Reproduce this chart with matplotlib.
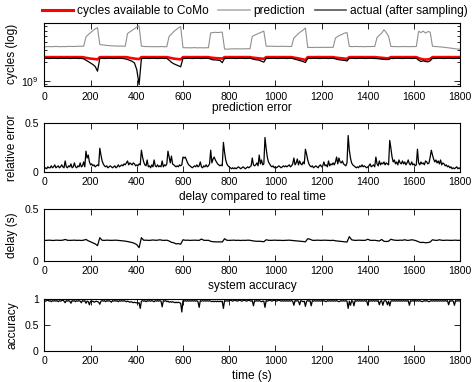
import numpy as np
import matplotlib
matplotlib.use('Agg')
import matplotlib.pyplot as plt
from matplotlib.lines import Line2D
from matplotlib.ticker import LogLocator, FixedLocator, NullFormatter

plt.rcParams['font.family'] = ['Liberation Sans', 'DejaVu Sans']

# time axis (s)
t10 = np.arange(0, 1801, 10)   # panels 1 and 3, one value every 10 s
t5 = np.arange(0, 1801, 5)     # panels 2 and 4, one value every 5 s

# cycles, in units of 1e9
available = [
    2.34, 2.34, 2.34, 2.34, 2.34, 2.34, 2.34, 2.34, 2.34, 2.34,
    2.34, 2.34, 2.34, 2.34, 2.34, 2.34, 2.34, 2.32, 2.28, 2.25,
    2.22, 2.20, 2.18, 2.16, 2.34, 2.34, 2.34, 2.34, 2.34, 2.34,
    2.34, 2.34, 2.34, 2.34, 2.34, 2.34, 2.32, 2.28, 2.25, 2.22,
    2.20, 2.18, 2.34, 2.34, 2.34, 2.34, 2.34, 2.34, 2.34, 2.34,
    2.34, 2.34, 2.34, 2.34, 2.30, 2.26, 2.22, 2.20, 2.18, 2.16,
    2.34, 2.34, 2.34, 2.34, 2.34, 2.34, 2.34, 2.34, 2.34, 2.34,
    2.34, 2.34, 2.30, 2.28, 2.26, 2.25, 2.24, 2.22, 2.34, 2.34,
    2.34, 2.34, 2.34, 2.34, 2.34, 2.34, 2.34, 2.34, 2.34, 2.34,
    2.30, 2.28, 2.26, 2.24, 2.22, 2.20, 2.34, 2.34, 2.34, 2.34,
    2.34, 2.34, 2.34, 2.34, 2.34, 2.34, 2.34, 2.34, 2.30, 2.27,
    2.24, 2.20, 2.16, 2.12, 2.34, 2.34, 2.34, 2.34, 2.34, 2.34,
    2.34, 2.34, 2.34, 2.34, 2.34, 2.34, 2.30, 2.28, 2.26, 2.24,
    2.22, 2.20, 2.34, 2.34, 2.34, 2.34, 2.34, 2.34, 2.34, 2.34,
    2.34, 2.34, 2.34, 2.34, 2.32, 2.30, 2.28, 2.26, 2.25, 2.25,
    2.34, 2.34, 2.34, 2.34, 2.34, 2.34, 2.34, 2.34, 2.34, 2.34,
    2.34, 2.34, 2.26, 2.20, 2.16, 2.14, 2.16, 2.20, 2.34, 2.34,
    2.34, 2.34, 2.34, 2.34, 2.34, 2.34, 2.34, 2.34, 2.34, 2.34,
    2.34]

prediction = [
    3.38, 3.40, 3.41, 3.39, 3.40, 3.42, 3.40, 3.39, 3.41, 3.40,
    3.42, 3.43, 3.41, 3.42, 3.44, 3.43, 3.45, 3.44, 4.80, 5.20,
    5.60, 6.00, 6.40, 6.65, 3.66, 3.62, 3.58, 3.55, 3.52, 3.50,
    3.48, 3.47, 3.46, 3.47, 3.45, 3.46, 5.40, 5.75, 6.05, 6.40,
    6.80, 7.10, 3.45, 3.42, 3.40, 3.41, 3.39, 3.40, 3.38, 3.40,
    3.39, 3.41, 3.38, 3.40, 4.90, 5.30, 5.80, 6.20, 6.60, 6.90,
    3.28, 3.26, 3.27, 3.25, 3.26, 3.28, 3.25, 3.27, 3.26, 3.25,
    3.27, 3.26, 5.55, 5.60, 5.65, 5.60, 5.65, 5.70, 3.12, 3.10,
    3.12, 3.14, 3.13, 3.15, 3.14, 3.13, 3.15, 3.14, 3.16, 3.15,
    4.90, 5.10, 5.30, 5.50, 5.70, 5.90, 3.46, 3.44, 3.45, 3.43,
    3.44, 3.42, 3.43, 3.44, 3.42, 3.43, 3.41, 3.42, 4.60, 5.00,
    5.40, 5.80, 6.10, 6.60, 3.30, 3.31, 3.29, 3.30, 3.32, 3.30,
    3.31, 3.32, 3.30, 3.31, 3.33, 3.32, 4.60, 4.90, 5.10, 5.30,
    5.50, 5.60, 3.42, 3.40, 3.41, 3.42, 3.40, 3.41, 3.39, 3.40,
    3.41, 3.40, 3.42, 3.41, 4.70, 5.10, 5.50, 6.20, 5.60, 4.90,
    3.42, 3.40, 3.41, 3.39, 3.40, 3.42, 3.41, 3.40, 3.39, 3.41,
    3.40, 3.42, 5.85, 5.60, 5.90, 5.50, 5.80, 5.70, 3.44, 3.42,
    3.40, 3.38, 3.35, 3.32, 3.30, 3.27, 3.22, 3.18, 3.14, 3.12,
    3.10]

actual = [
    2.24, 2.25, 2.23, 2.24, 2.25, 2.24, 2.23, 2.25, 2.24, 2.24,
    2.25, 2.23, 2.24, 2.25, 2.24, 2.23, 2.24, 2.20, 2.10, 2.00,
    1.90, 1.80, 1.68, 1.42, 2.24, 2.25, 2.23, 2.24, 2.25, 2.24,
    2.23, 2.24, 2.25, 2.24, 2.23, 2.20, 2.15, 2.08, 2.02, 1.90,
    1.50, 0.88, 2.22, 2.24, 2.25, 2.23, 2.24, 2.25, 2.24, 2.23,
    2.24, 2.25, 2.23, 2.24, 2.10, 1.95, 1.85, 1.78, 1.72, 1.66,
    2.24, 2.23, 2.25, 2.24, 2.23, 2.24, 2.25, 2.24, 2.23, 2.24,
    2.25, 2.24, 2.18, 2.12, 2.12, 2.10, 2.08, 1.92, 2.24, 2.23,
    2.24, 2.25, 2.24, 2.23, 2.24, 2.25, 2.24, 2.23, 2.24, 2.25,
    2.20, 2.15, 2.12, 2.10, 2.02, 1.96, 2.24, 2.23, 2.24, 2.25,
    2.24, 2.23, 2.24, 2.25, 2.24, 2.23, 2.24, 2.25, 2.20, 2.15,
    2.10, 2.05, 2.00, 1.93, 2.24, 2.23, 2.24, 2.25, 2.24, 2.23,
    2.24, 2.25, 2.24, 2.23, 2.24, 2.25, 2.20, 2.15, 2.12, 2.10,
    2.08, 2.04, 2.24, 2.25, 2.24, 2.23, 2.24, 2.25, 2.24, 2.23,
    2.24, 2.25, 2.24, 2.23, 2.22, 2.20, 2.18, 2.16, 2.15, 2.15,
    2.24, 2.23, 2.24, 2.25, 2.24, 2.23, 2.24, 2.25, 2.24, 2.23,
    2.24, 2.25, 2.10, 2.00, 2.05, 2.00, 1.98, 2.05, 2.24, 2.23,
    2.24, 2.25, 2.24, 2.23, 2.24, 2.25, 2.24, 2.23, 2.24, 2.25,
    2.24]

rel_error = [
    0.03, 0.04, 0.03, 0.05, 0.04, 0.04, 0.06, 0.04, 0.05, 0.07,
    0.04, 0.05, 0.06, 0.04, 0.05, 0.07, 0.05, 0.04, 0.11, 0.05,
    0.04, 0.06, 0.05, 0.08, 0.04, 0.05, 0.09, 0.05, 0.04, 0.06,
    0.05, 0.09, 0.05, 0.06, 0.10, 0.05, 0.21, 0.14, 0.17, 0.10,
    0.07, 0.08, 0.06, 0.07, 0.05, 0.06, 0.07, 0.06, 0.24, 0.17,
    0.11, 0.08, 0.06, 0.05, 0.06, 0.04, 0.05, 0.06, 0.05, 0.04,
    0.05, 0.06, 0.04, 0.05, 0.07, 0.05, 0.06, 0.07, 0.06, 0.08,
    0.07, 0.09, 0.11, 0.07, 0.09, 0.08, 0.07, 0.09, 0.08, 0.06,
    0.07, 0.06, 0.08, 0.07, 0.22, 0.15, 0.10, 0.07, 0.06, 0.12,
    0.05, 0.06, 0.04, 0.07, 0.05, 0.12, 0.06, 0.05, 0.07, 0.05,
    0.06, 0.05, 0.11, 0.05, 0.07, 0.06, 0.08, 0.21, 0.15, 0.09,
    0.16, 0.08, 0.07, 0.06, 0.05, 0.06, 0.05, 0.07, 0.06, 0.07,
    0.15, 0.14, 0.15, 0.12, 0.09, 0.07, 0.06, 0.05, 0.04, 0.05,
    0.06, 0.05, 0.07, 0.05, 0.06, 0.10, 0.05, 0.04, 0.06, 0.05,
    0.07, 0.05, 0.06, 0.08, 0.22, 0.09, 0.13, 0.15, 0.12, 0.10,
    0.08, 0.07, 0.06, 0.07, 0.06, 0.30, 0.20, 0.12, 0.08, 0.06,
    0.05, 0.04, 0.03, 0.04, 0.03, 0.04, 0.03, 0.04, 0.05, 0.04,
    0.03, 0.04, 0.05, 0.04, 0.03, 0.04, 0.05, 0.04, 0.05, 0.06,
    0.14, 0.07, 0.06, 0.07, 0.09, 0.06, 0.17, 0.08, 0.12, 0.07,
    0.08, 0.35, 0.24, 0.15, 0.10, 0.08, 0.06, 0.05, 0.06, 0.04,
    0.05, 0.04, 0.05, 0.06, 0.05, 0.04, 0.05, 0.06, 0.05, 0.06,
    0.05, 0.06, 0.07, 0.05, 0.06, 0.08, 0.14, 0.07, 0.09, 0.13,
    0.07, 0.11, 0.08, 0.07, 0.10, 0.08, 0.23, 0.18, 0.12, 0.08,
    0.06, 0.05, 0.06, 0.04, 0.05, 0.06, 0.05, 0.04, 0.06, 0.07,
    0.05, 0.06, 0.10, 0.06, 0.07, 0.05, 0.11, 0.06, 0.08, 0.07,
    0.09, 0.07, 0.10, 0.15, 0.08, 0.14, 0.10, 0.09, 0.11, 0.08,
    0.07, 0.06, 0.09, 0.37, 0.22, 0.14, 0.09, 0.07, 0.06, 0.05,
    0.04, 0.05, 0.04, 0.06, 0.05, 0.07, 0.05, 0.06, 0.05, 0.04,
    0.05, 0.06, 0.08, 0.05, 0.06, 0.07, 0.05, 0.15, 0.08, 0.06,
    0.11, 0.07, 0.09, 0.08, 0.10, 0.07, 0.09, 0.08, 0.07, 0.32,
    0.24, 0.15, 0.10, 0.12, 0.08, 0.10, 0.07, 0.12, 0.09, 0.08,
    0.11, 0.08, 0.10, 0.07, 0.09, 0.12, 0.08, 0.07, 0.10, 0.07,
    0.08, 0.06, 0.07, 0.23, 0.09, 0.07, 0.10, 0.08, 0.09, 0.07,
    0.11, 0.10, 0.08, 0.09, 0.15, 0.22, 0.17, 0.13, 0.10, 0.12,
    0.09, 0.11, 0.08, 0.12, 0.07, 0.09, 0.08, 0.06, 0.07, 0.05,
    0.06, 0.04, 0.05, 0.03, 0.04, 0.03, 0.04, 0.05, 0.03, 0.04,
    0.03]

delay = [
    0.200, 0.199, 0.201, 0.200, 0.198, 0.201, 0.200, 0.199, 0.201, 0.208,
    0.200, 0.199, 0.200, 0.201, 0.199, 0.200, 0.198, 0.201, 0.208, 0.195,
    0.185, 0.175, 0.165, 0.148, 0.225, 0.200, 0.199, 0.201, 0.200, 0.199,
    0.200, 0.201, 0.199, 0.197, 0.195, 0.192, 0.188, 0.183, 0.178, 0.170,
    0.158, 0.128, 0.225, 0.200, 0.201, 0.199, 0.200, 0.203, 0.200, 0.201,
    0.205, 0.200, 0.199, 0.201, 0.193, 0.180, 0.176, 0.165, 0.168, 0.162,
    0.205, 0.200, 0.201, 0.199, 0.200, 0.201, 0.200, 0.199, 0.212, 0.200,
    0.199, 0.200, 0.190, 0.186, 0.185, 0.184, 0.185, 0.183, 0.215, 0.200,
    0.199, 0.200, 0.201, 0.199, 0.200, 0.198, 0.200, 0.199, 0.201, 0.200,
    0.195, 0.192, 0.190, 0.191, 0.189, 0.186, 0.205, 0.200, 0.199, 0.200,
    0.201, 0.199, 0.200, 0.198, 0.199, 0.200, 0.201, 0.199, 0.198, 0.194,
    0.192, 0.190, 0.188, 0.185, 0.215, 0.210, 0.200, 0.199, 0.201, 0.200,
    0.199, 0.201, 0.200, 0.199, 0.198, 0.200, 0.195, 0.192, 0.190, 0.188,
    0.186, 0.183, 0.235, 0.205, 0.200, 0.199, 0.201, 0.200, 0.199, 0.200,
    0.210, 0.200, 0.199, 0.200, 0.196, 0.193, 0.208, 0.190, 0.188, 0.191,
    0.210, 0.203, 0.200, 0.199, 0.201, 0.200, 0.205, 0.199, 0.200, 0.205,
    0.201, 0.195, 0.185, 0.178, 0.180, 0.176, 0.178, 0.183, 0.205, 0.200,
    0.199, 0.205, 0.200, 0.199, 0.201, 0.200, 0.199, 0.200, 0.201, 0.199,
    0.200]

accuracy = [
    0.97, 0.96, 0.97, 0.98, 0.96, 0.97, 0.95, 0.97, 0.96, 0.97,
    0.96, 0.97, 0.95, 0.97, 0.96, 0.97, 0.98, 0.96, 0.93, 0.97,
    0.96, 0.97, 0.96, 0.92, 0.97, 0.96, 0.97, 0.95, 0.97, 0.96,
    0.97, 0.96, 0.93, 0.97, 0.96, 0.97, 0.92, 0.96, 0.95, 0.89,
    0.96, 0.95, 0.96, 0.94, 0.95, 0.96, 0.95, 0.94, 0.90, 0.96,
    0.97, 0.96, 0.97, 0.95, 0.97, 0.96, 0.97, 0.96, 0.94, 0.97,
    0.96, 0.97, 0.96, 0.97, 0.95, 0.97, 0.96, 0.97, 0.96, 0.97,
    0.96, 0.95, 0.96, 0.95, 0.94, 0.95, 0.94, 0.93, 0.94, 0.93,
    0.93, 0.92, 0.93, 0.82, 0.96, 0.97, 0.96, 0.97, 0.95, 0.97,
    0.96, 0.97, 0.96, 0.97, 0.96, 0.95, 0.97, 0.96, 0.97, 0.96,
    0.97, 0.96, 0.85, 0.97, 0.96, 0.97, 0.95, 0.96, 0.94, 0.95,
    0.94, 0.95, 0.94, 0.93, 0.94, 0.93, 0.94, 0.93, 0.92, 0.75,
    0.97, 0.96, 0.97, 0.96, 0.97, 0.96, 0.97, 0.96, 0.97, 0.96,
    0.97, 0.96, 0.97, 0.95, 0.84, 0.97, 0.96, 0.97, 0.96, 0.97,
    0.96, 0.97, 0.96, 0.97, 0.96, 0.95, 0.96, 0.95, 0.96, 0.95,
    0.96, 0.95, 0.96, 0.95, 0.96, 0.82, 0.97, 0.96, 0.97, 0.96,
    0.97, 0.98, 0.97, 0.96, 0.97, 0.98, 0.97, 0.96, 0.97, 0.98,
    0.97, 0.96, 0.97, 0.98, 0.97, 0.96, 0.97, 0.98, 0.97, 0.96,
    0.97, 0.87, 0.97, 0.96, 0.97, 0.96, 0.97, 0.96, 0.95, 0.96,
    0.96, 0.84, 0.97, 0.96, 0.97, 0.98, 0.97, 0.96, 0.97, 0.98,
    0.97, 0.96, 0.97, 0.98, 0.97, 0.96, 0.97, 0.96, 0.97, 0.96,
    0.97, 0.96, 0.97, 0.96, 0.97, 0.96, 0.88, 0.97, 0.96, 0.97,
    0.96, 0.89, 0.97, 0.96, 0.95, 0.96, 0.86, 0.96, 0.97, 0.96,
    0.97, 0.87, 0.97, 0.96, 0.97, 0.96, 0.97, 0.96, 0.97, 0.96,
    0.97, 0.96, 0.97, 0.96, 0.95, 0.97, 0.96, 0.97, 0.96, 0.97,
    0.96, 0.97, 0.96, 0.97, 0.96, 0.95, 0.96, 0.97, 0.96, 0.97,
    0.96, 0.97, 0.96, 0.82, 0.96, 0.88, 0.97, 0.96, 0.87, 0.97,
    0.96, 0.97, 0.96, 0.97, 0.96, 0.97, 0.96, 0.97, 0.96, 0.97,
    0.88, 0.97, 0.96, 0.97, 0.96, 0.97, 0.96, 0.97, 0.96, 0.97,
    0.89, 0.96, 0.97, 0.88, 0.96, 0.97, 0.96, 0.89, 0.96, 0.87,
    0.96, 0.97, 0.96, 0.97, 0.96, 0.97, 0.96, 0.97, 0.96, 0.97,
    0.96, 0.97, 0.96, 0.97, 0.96, 0.97, 0.88, 0.97, 0.96, 0.97,
    0.96, 0.97, 0.96, 0.97, 0.96, 0.97, 0.96, 0.95, 0.96, 0.97,
    0.96, 0.97, 0.96, 0.95, 0.96, 0.97, 0.96, 0.97, 0.96, 0.97,
    0.96, 0.97, 0.96, 0.97, 0.96, 0.97, 0.96, 0.97, 0.96, 0.97,
    0.89, 0.97, 0.96, 0.97, 0.96, 0.88, 0.97, 0.96, 0.97, 0.96,
    0.97]

xticks = [0, 200, 400, 600, 800, 1000, 1200, 1400, 1600, 1800]

fs_tick = 7.6
fs_text = 8.6

fig = plt.figure(figsize=(4.72, 3.82), dpi=100)
ax1 = fig.add_axes([0.094, 0.775, 0.881, 0.166])
ax2 = fig.add_axes([0.094, 0.5505, 0.881, 0.128])
ax3 = fig.add_axes([0.094, 0.317, 0.881, 0.135])
ax4 = fig.add_axes([0.094, 0.082, 0.881, 0.135])

for ax in [ax1, ax2, ax3, ax4]:
    ax.set_xlim(0, 1800)
    ax.set_xticks(xticks)
    ax.tick_params(which='both', direction='in', top=True, right=True,
                   labelsize=fs_tick, width=0.6, pad=4)
    ax.tick_params(which='major', length=4)
    ax.tick_params(which='minor', length=2.2)
    for s in ax.spines.values():
        s.set_linewidth(0.8)

# panel 1: cycles
ax1.plot(t10, np.array(available) * 1e9, color='red', lw=1.9)
ax1.plot(t10, np.array(prediction) * 1e9, color='#909090', lw=0.8)
ax1.plot(t10, np.array(actual) * 1e9, color='black', lw=0.9)
ax1.set_yscale('log')
ax1.set_ylim(0.84e9, 8e9)
ax1.yaxis.set_major_locator(FixedLocator([1e9]))
ax1.yaxis.set_minor_locator(LogLocator(base=10, subs=np.arange(2, 10)))
ax1.yaxis.set_minor_formatter(NullFormatter())
ax1.set_ylabel('cycles (log)', fontsize=fs_text)

# panel 2: prediction error
ax2.plot(t5, rel_error, color='black', lw=0.9)
ax2.set_ylim(0, 0.5)
ax2.set_yticks([0, 0.5])
ax2.set_yticklabels(['0', '0.5'])
ax2.text(0.5, 1.293, 'prediction error', transform=ax2.transAxes,
         ha='center', va='center', fontsize=fs_text)
ax2.set_ylabel('relative error', fontsize=fs_text)

# panel 3: delay
ax3.plot(t10, delay, color='black', lw=0.9)
ax3.set_ylim(0, 0.5)
ax3.set_yticks([0, 0.5])
ax3.set_yticklabels(['0', '0.5'])
ax3.text(0.5, 1.244, 'delay compared to real time', transform=ax3.transAxes,
         ha='center', va='center', fontsize=fs_text)
ax3.set_ylabel('delay (s)', fontsize=fs_text)

# panel 4: accuracy
ax4.plot(t5, accuracy, color='black', lw=0.9)
ax4.set_ylim(0, 1)
ax4.set_yticks([0, 0.5, 1])
ax4.set_yticklabels(['0', '0.5', '1'])
ax4.text(0.5, 1.25, 'system accuracy', transform=ax4.transAxes,
         ha='center', va='center', fontsize=fs_text)
ax4.set_ylabel('accuracy', fontsize=fs_text)
ax4.set_xlabel('time (s)', fontsize=fs_text, labelpad=3)

for ax in [ax1, ax2, ax3, ax4]:
    ax.yaxis.set_label_coords(-0.063, 0.5)

handles = [Line2D([], [], color='red', lw=2.2),
           Line2D([], [], color='#b0b0b0', lw=1.2),
           Line2D([], [], color='#555555', lw=1.2)]
labels = ['cycles available to CoMo', 'prediction', 'actual (after sampling)']
fig.legend(handles, labels, loc='upper center', bbox_to_anchor=(0.54, 1.015),
           ncol=3, frameon=False, fontsize=fs_text, handlelength=2.6,
           handletextpad=0.35, columnspacing=0.8)

fig.savefig('out.png', dpi=100)
